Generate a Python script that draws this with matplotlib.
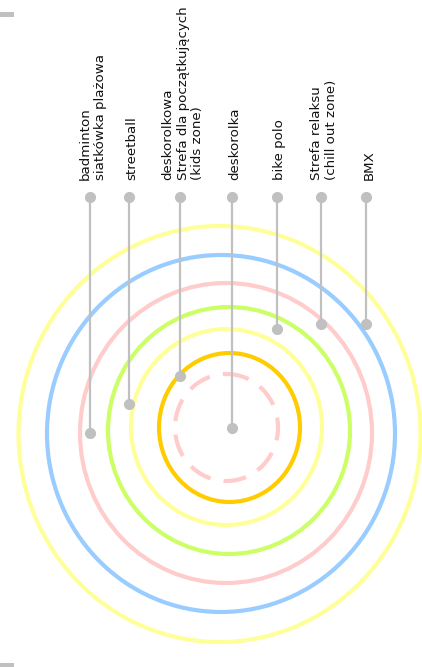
import matplotlib
matplotlib.use("Agg")
import matplotlib.pyplot as plt
from matplotlib.patches import Ellipse, Rectangle

# Zones (rings), drawn from the outside in
ring_names = ["outer", "blue", "pink", "green", "inner yellow", "orange", "dashed"]
ring_cx = [219.5, 221, 226, 229, 226.5, 229.5, 226.5]
ring_cy = [434, 433.5, 433, 430.5, 427, 427.5, 427.5]
ring_rx = [201, 174, 146, 121, 95.5, 70.5, 51.5]
ring_ry = [208, 178.5, 150, 123.5, 98, 74.5, 53.5]
ring_colors = ["#ffff99", "#99ccff", "#ffcccc", "#ccff66", "#ffff99", "#ffcc00", "#ffcccc"]
ring_dashed = [False, False, False, False, False, False, True]

# Labels with leader lines
labels = [
    "badminton\nsiatkówka plażowa",
    "streetball",
    "deskorolkowa\nStrefa dla początkujących\n(kids zone)",
    "deskorolka",
    "bike polo",
    "Strefa relaksu\n(chill out zone)",
    "BMX",
]
label_x = [90, 129, 180, 232, 277, 321, 366]
label_end_y = [433, 404, 376, 428, 329, 324, 324]
label_top_y = 197
text_base_y = 180

W, H = 422, 667
fig = plt.figure(figsize=(W / 100, H / 100), dpi=100)
ax = fig.add_axes([0, 0, 1, 1])
ax.set_xlim(0, W)
ax.set_ylim(H, 0)
ax.axis("off")

for cx, cy, rx, ry, c, d in zip(ring_cx, ring_cy, ring_rx, ring_ry, ring_colors, ring_dashed):
    e = Ellipse((cx, cy), 2 * rx, 2 * ry, fill=False, edgecolor=c, lw=3.0,
                linestyle=(0, (5.5, 3.2)) if d else "-", zorder=2)
    ax.add_patch(e)

gray = "#c0c0c0"
for lab, x, ye in zip(labels, label_x, label_end_y):
    ax.plot([x, x], [label_top_y, ye], color=gray, lw=1.6, zorder=3)
    ax.plot([x, x], [label_top_y, ye], ls="none", marker="o", ms=7,
            color=gray, zorder=4)
    ax.text(x + 3, text_base_y, lab, rotation=90, ha="center", va="bottom",
            multialignment="left", fontsize=9.6, color="#111111",
            family="DejaVu Sans", linespacing=1.2)

# small gray marks at left edge
ax.add_patch(Rectangle((0, 12), 14, 5, color=gray, lw=0))
ax.add_patch(Rectangle((0, 663), 14, 5, color=gray, lw=0))

fig.savefig("out.png", dpi=100)
